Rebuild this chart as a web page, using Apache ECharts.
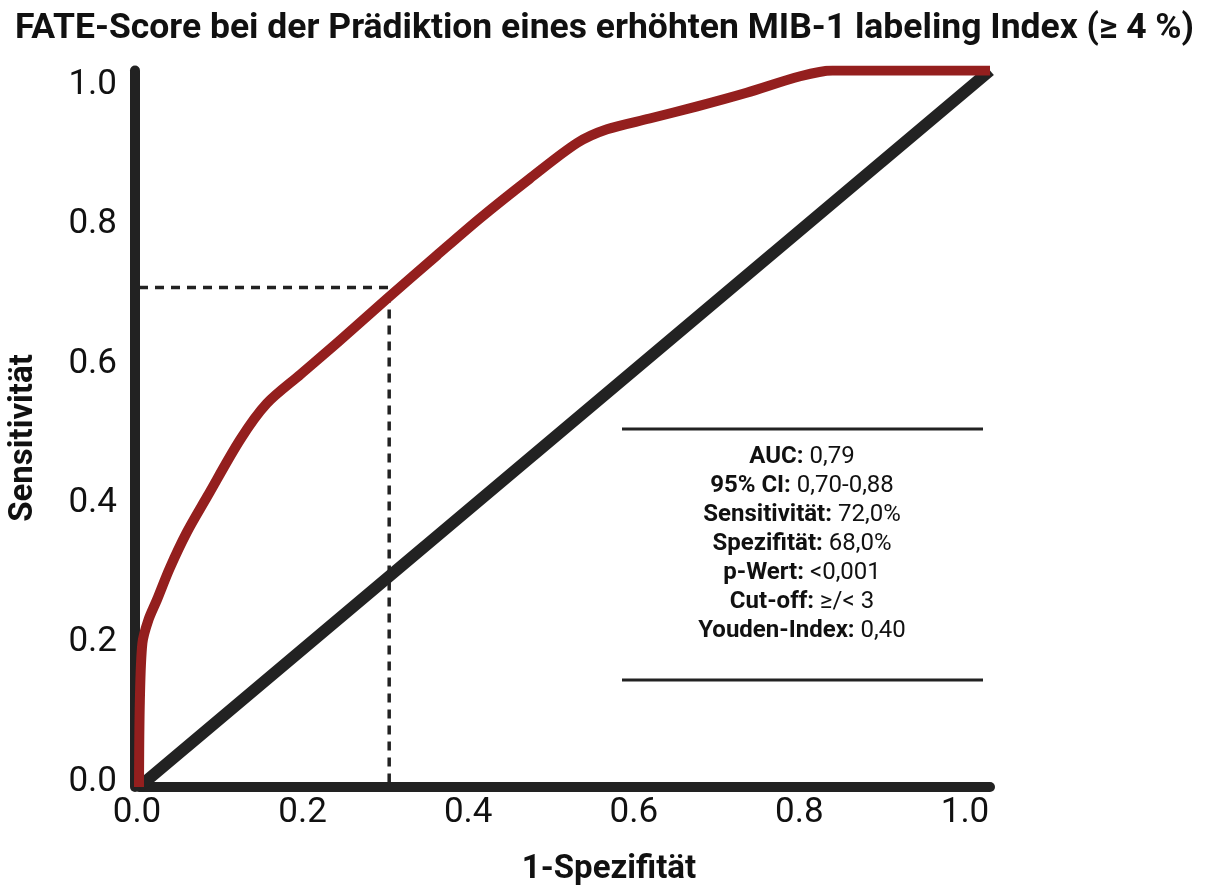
<!DOCTYPE html>
<html><head><meta charset="utf-8">
<script src="https://cdn.jsdelivr.net/npm/echarts@6/dist/echarts.min.js"></script>
<style>html,body{margin:0;padding:0;background:#fff}#c{width:1209px;height:892px}</style>
</head><body><div id="c"></div>
<script>
// ROC curve (1-Spezifität, Sensitivität)
const rocFpr = [0, 0.001, 0.004, 0.011, 0.021, 0.036, 0.056, 0.080, 0.119, 0.150, 0.190, 0.235, 0.292, 0.350, 0.401, 0.459, 0.515, 0.550, 0.600, 0.656, 0.714, 0.777, 0.815, 0.871, 1.0];
const rocTpr = [0, 0.120, 0.201, 0.233, 0.261, 0.305, 0.355, 0.405, 0.485, 0.535, 0.576, 0.622, 0.682, 0.742, 0.794, 0.849, 0.899, 0.918, 0.933, 0.950, 0.969, 0.992, 1.0, 1.0, 1.0];
// chance diagonal
const chanceFpr = [0, 1];
const chanceTpr = [0, 1];
// cut-off point
const cutoffFpr = 0.294;
const cutoffTpr = 0.697;
// tick labels
const tickValues = [0, 0.2, 0.4, 0.6, 0.8, 1.0];
// statistics box
const statLabels = ['AUC', '95% CI', 'Sensitivität', 'Spezifität', 'p-Wert', 'Cut-off', 'Youden-Index'];
const statValues = ['0,79', '0,70-0,88', '72,0%', '68,0%', '<0,001', '≥/< 3', '0,40'];

const titleText = 'FATE-Score bei der Prädiktion eines erhöhten MIB-1 labeling Index (≥ 4 %)';
const xName = '1-Spezifität';
const yName = 'Sensitivität';

const FONT = 'Roboto, "Noto Sans", sans-serif';
const RED = '#941f1e';
const INK = '#222222';

const zip = (a, b) => a.map((v, i) => [v, b[i]]);

const chart = echarts.init(document.getElementById('c'), null, {renderer: 'canvas'});

const statText = statLabels.map((l, i) => '{b|' + l + ':}{r| ' + statValues[i] + '}').join('\n');

const option = {
  backgroundColor: '#fff',
  animation: false,
  title: {
    text: titleText,
    left: 'center',
    top: 6,
    textStyle: {fontFamily: FONT, fontSize: 35.5, fontWeight: 'bold', color: '#111'}
  },
  grid: [
    {left: 139, top: 70.5, width: 851, height: 716.5, outerBoundsMode: 'none', containLabel: false},
    {left: 137, top: 85, width: 828, height: 697, outerBoundsMode: 'none', containLabel: false}
  ],
  xAxis: [
    {type: 'value', gridIndex: 0, min: 0, max: 1,
      axisLine: {show: true, onZero: false, lineStyle: {color: INK, width: 10}},
      axisTick: {show: false}, axisLabel: {show: false}, splitLine: {show: false}},
    {type: 'value', gridIndex: 1, min: 0, max: 1, interval: 0.2,
      axisLine: {show: false}, axisTick: {show: false}, splitLine: {show: false},
      axisLabel: {show: true, margin: 31, verticalAlign: 'middle', fontFamily: FONT, fontSize: 35, color: '#111',
        formatter: v => v.toFixed(1)}}
  ],
  yAxis: [
    {type: 'value', gridIndex: 0, min: 0, max: 1, offset: 4,
      axisLine: {show: true, onZero: false, lineStyle: {color: INK, width: 10}},
      axisTick: {show: false}, axisLabel: {show: false}, splitLine: {show: false}},
    {type: 'value', gridIndex: 1, min: 0, max: 1, interval: 0.2,
      axisLine: {show: false}, axisTick: {show: false}, splitLine: {show: false},
      axisLabel: {show: true, margin: 20, fontFamily: FONT, fontSize: 35, color: '#111',
        formatter: v => v.toFixed(1)}}
  ],
  series: [
    {type: 'line', name: 'cutoff', xAxisIndex: 0, yAxisIndex: 0, z: 2,
      data: [[0, cutoffTpr], [cutoffFpr, cutoffTpr], [cutoffFpr, 0]],
      symbol: 'none', silent: true,
      lineStyle: {color: INK, width: 3.5, type: [9, 7]}},
    {type: 'line', name: 'chance', xAxisIndex: 0, yAxisIndex: 0, z: 3,
      data: zip(chanceFpr, chanceTpr), symbol: 'none', silent: true,
      lineStyle: {color: INK, width: 12}},
    {type: 'line', name: 'ROC', xAxisIndex: 0, yAxisIndex: 0, z: 4,
      data: zip(rocFpr, rocTpr), symbol: 'none', smooth: 0.3, silent: true,
      lineStyle: {color: RED, width: 10, join: 'round'}},
    {type: 'line', xAxisIndex: 1, yAxisIndex: 1, data: [], symbol: 'none'}
  ],
  graphic: [
    {type: 'text', x: 24, y: 438, rotation: Math.PI / 2,
      style: {text: yName, align: 'center', verticalAlign: 'middle', fontFamily: FONT, fontSize: 33, fontWeight: 'bold', fill: '#111'}},
    {type: 'text', x: 609, y: 870,
      style: {text: xName, align: 'center', verticalAlign: 'middle', fontFamily: FONT, fontSize: 33, fontWeight: 'bold', fill: '#111'}},
    {type: 'line', shape: {x1: 622, y1: 429, x2: 983, y2: 429}, style: {stroke: INK, lineWidth: 3}},
    {type: 'line', shape: {x1: 622, y1: 680, x2: 983, y2: 680}, style: {stroke: INK, lineWidth: 3}},
    {type: 'text', x: 802, y: 544,
      style: {text: statText, align: 'center', verticalAlign: 'middle', lineHeight: 29,
        rich: {
          b: {fontFamily: FONT, fontSize: 24, fontWeight: 'bold', fill: '#111', lineHeight: 29},
          r: {fontFamily: FONT, fontSize: 24, fontWeight: 'normal', fill: '#111', lineHeight: 29}
        }}}
  ]
};
chart.setOption(option);
</script>
</body></html>
